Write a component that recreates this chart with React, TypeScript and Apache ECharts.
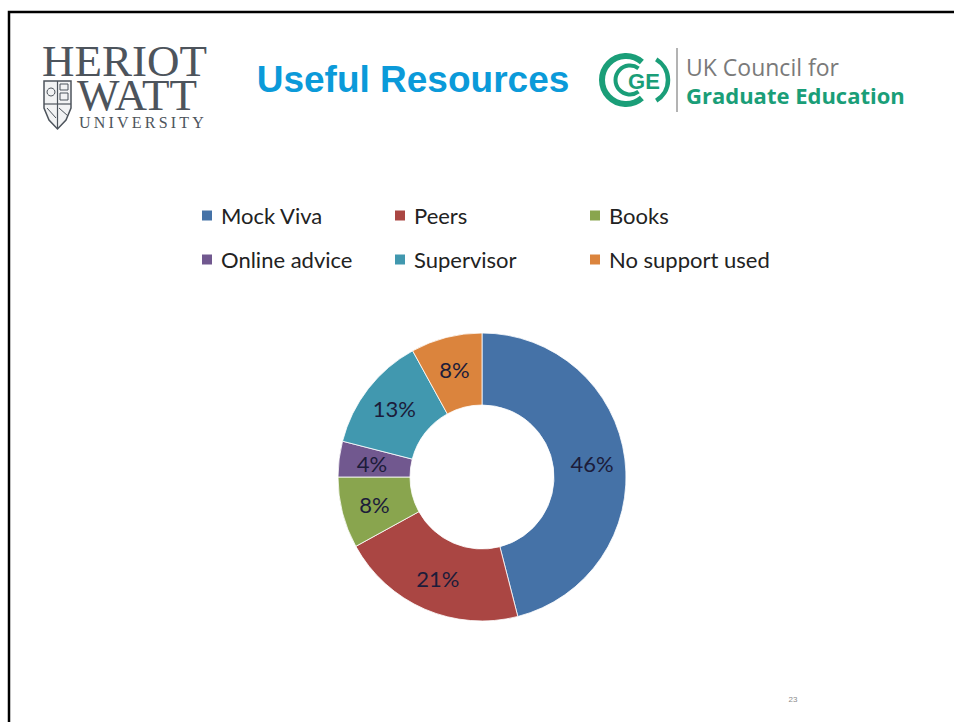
import React, { useEffect, useRef } from "react";
import * as echarts from "echarts";

// Share of respondents by most useful resource
const categories = ["Mock Viva", "Peers", "Books", "Online advice", "Supervisor", "No support used"];
const shares = [46, 21, 8, 4, 13, 8];
const colors = ["#4572A7", "#AA4643", "#89A54E", "#71588F", "#4198AF", "#DB843D"];

// Legend columns (two rows each)
const legendColumns = [
  ["Mock Viva", "Online advice"],
  ["Peers", "Supervisor"],
  ["Books", "No support used"],
];
const legendLefts = [200, 393, 588];

const LABEL_FONT = "Lato, 'Noto Sans', sans-serif";
const THIN = "\u2009";

export default function App() {
  const ref = useRef<HTMLDivElement>(null);

  useEffect(() => {
    document.body.style.margin = "0";
    if (!ref.current) return;
    const chart = echarts.init(ref.current, undefined, { renderer: "svg" });

    const grey = "#4d545c";
    const green = "#1a9e78";

    const option: any = {
      animation: false,
      backgroundColor: "#ffffff",
      color: colors,
      legend: legendColumns.map((col, i) => ({
        orient: "vertical",
        left: legendLefts[i],
        top: 204,
        padding: 0,
        data: col,
        icon: "rect",
        itemWidth: 12,
        itemHeight: 12,
        itemGap: 21,
        selectedMode: false,
        textStyle: {
          fontFamily: LABEL_FONT,
          fontSize: 22,
          color: "#222222",
          lineHeight: 23,
          padding: [0, 0, 0, 3],
        },
      })),
      series: [
        {
          type: "pie",
          center: [482, 477],
          radius: [72, 144],
          startAngle: 90,
          clockwise: true,
          avoidLabelOverlap: false,
          silent: true,
          itemStyle: { borderColor: "#ffffff", borderWidth: 0.8 },
          label: {
            show: true,
            position: "inside",
            formatter: "{c}%",
            fontFamily: LABEL_FONT,
            fontSize: 22,
            color: "#1c1c3a",
          },
          labelLine: { show: false },
          data: categories.map((name, i) => ({ name, value: shares[i] })),
        },
      ],
      graphic: [
        // slide frame
        {
          type: "polyline",
          shape: { points: [[9, 760], [9, 12], [1000, 12]] },
          style: { stroke: "#000000", lineWidth: 2.5, fill: null },
        },
        // university wordmark
        {
          type: "text",
          x: 42,
          y: 61,
          style: {
            text: "HERIOT",
            font: "45px 'Liberation Serif', serif",
            fill: grey,
            verticalAlign: "middle",
          },
        },
        {
          type: "text",
          x: 77,
          y: 95,
          style: {
            text: "WATT",
            font: "45px 'Liberation Serif', serif",
            fill: grey,
            verticalAlign: "middle",
          },
        },
        {
          type: "text",
          x: 79,
          y: 122,
          style: {
            text: "UNIVERSITY".split("").join(THIN),
            font: "16px 'Liberation Serif', serif",
            fill: grey,
            verticalAlign: "middle",
          },
        },
        // shield
        {
          type: "polygon",
          shape: {
            points: [
              [44, 81], [71, 81], [71, 108], [66, 120], [57.5, 129], [49, 120], [44, 108],
            ],
          },
          style: { fill: "#f2f3f4", stroke: grey, lineWidth: 1.5 },
        },
        { type: "line", shape: { x1: 57.5, y1: 81, x2: 57.5, y2: 128 }, style: { stroke: grey, lineWidth: 1.2 } },
        { type: "line", shape: { x1: 44, y1: 104, x2: 71, y2: 104 }, style: { stroke: grey, lineWidth: 1.2 } },
        { type: "rect", shape: { x: 60, y: 84, width: 8, height: 6 }, style: { fill: "none", stroke: grey, lineWidth: 1 } },
        { type: "circle", shape: { cx: 51, cy: 92, r: 4 }, style: { fill: "none", stroke: grey, lineWidth: 1 } },
        { type: "rect", shape: { x: 60, y: 93, width: 8, height: 7 }, style: { fill: "none", stroke: grey, lineWidth: 1 } },
        { type: "line", shape: { x1: 47, y1: 108, x2: 56, y2: 118 }, style: { stroke: grey, lineWidth: 1 } },
        { type: "line", shape: { x1: 59, y1: 108, x2: 68, y2: 116 }, style: { stroke: grey, lineWidth: 1 } },
        // title
        {
          type: "text",
          x: 413,
          y: 79,
          style: {
            text: "Useful Resources",
            font: "bold 37px 'Liberation Sans', Arial, sans-serif",
            fill: "#0b9ad9",
            align: "center",
            verticalAlign: "middle",
          },
        },
        // council emblem
        {
          type: "arc",
          shape: { cx: 626, cy: 80, r: 24, startAngle: Math.PI * 0.27, endAngle: Math.PI * 1.73, clockwise: true },
          style: { stroke: green, lineWidth: 6, fill: null },
        },
        {
          type: "arc",
          shape: { cx: 630, cy: 80, r: 14.5, startAngle: Math.PI * 0.3, endAngle: Math.PI * 1.7, clockwise: true },
          style: { stroke: green, lineWidth: 4, fill: null },
        },
        {
          type: "arc",
          shape: { cx: 644, cy: 80, r: 24, startAngle: -Math.PI * 0.33, endAngle: Math.PI * 0.33, clockwise: true },
          style: { stroke: green, lineWidth: 4.5, fill: null },
        },
        {
          type: "text",
          x: 644,
          y: 81,
          style: {
            text: "GE",
            font: "bold 22px 'Liberation Sans', sans-serif",
            fill: green,
            align: "center",
            verticalAlign: "middle",
          },
        },
        { type: "line", shape: { x1: 677, y1: 48, x2: 677, y2: 112 }, style: { stroke: "#9a9a9a", lineWidth: 1.5 } },
        {
          type: "text",
          x: 686,
          y: 67,
          style: {
            text: "UK Council for",
            font: "23px 'Open Sans', sans-serif",
            fill: "#7a7a7a",
            verticalAlign: "middle",
          },
        },
        {
          type: "text",
          x: 686,
          y: 95,
          style: {
            text: "Graduate Education",
            font: "bold 22px 'Open Sans', sans-serif",
            fill: green,
            verticalAlign: "middle",
          },
        },
        // slide number
        {
          type: "text",
          x: 793,
          y: 699,
          style: {
            text: "23",
            font: "8px 'Liberation Sans', sans-serif",
            fill: "#8a8a8a",
            align: "center",
            verticalAlign: "middle",
          },
        },
      ],
    };

    chart.setOption(option);
    return () => chart.dispose();
  }, []);

  return <div ref={ref} style={{ width: 954, height: 722 }} />;
}
